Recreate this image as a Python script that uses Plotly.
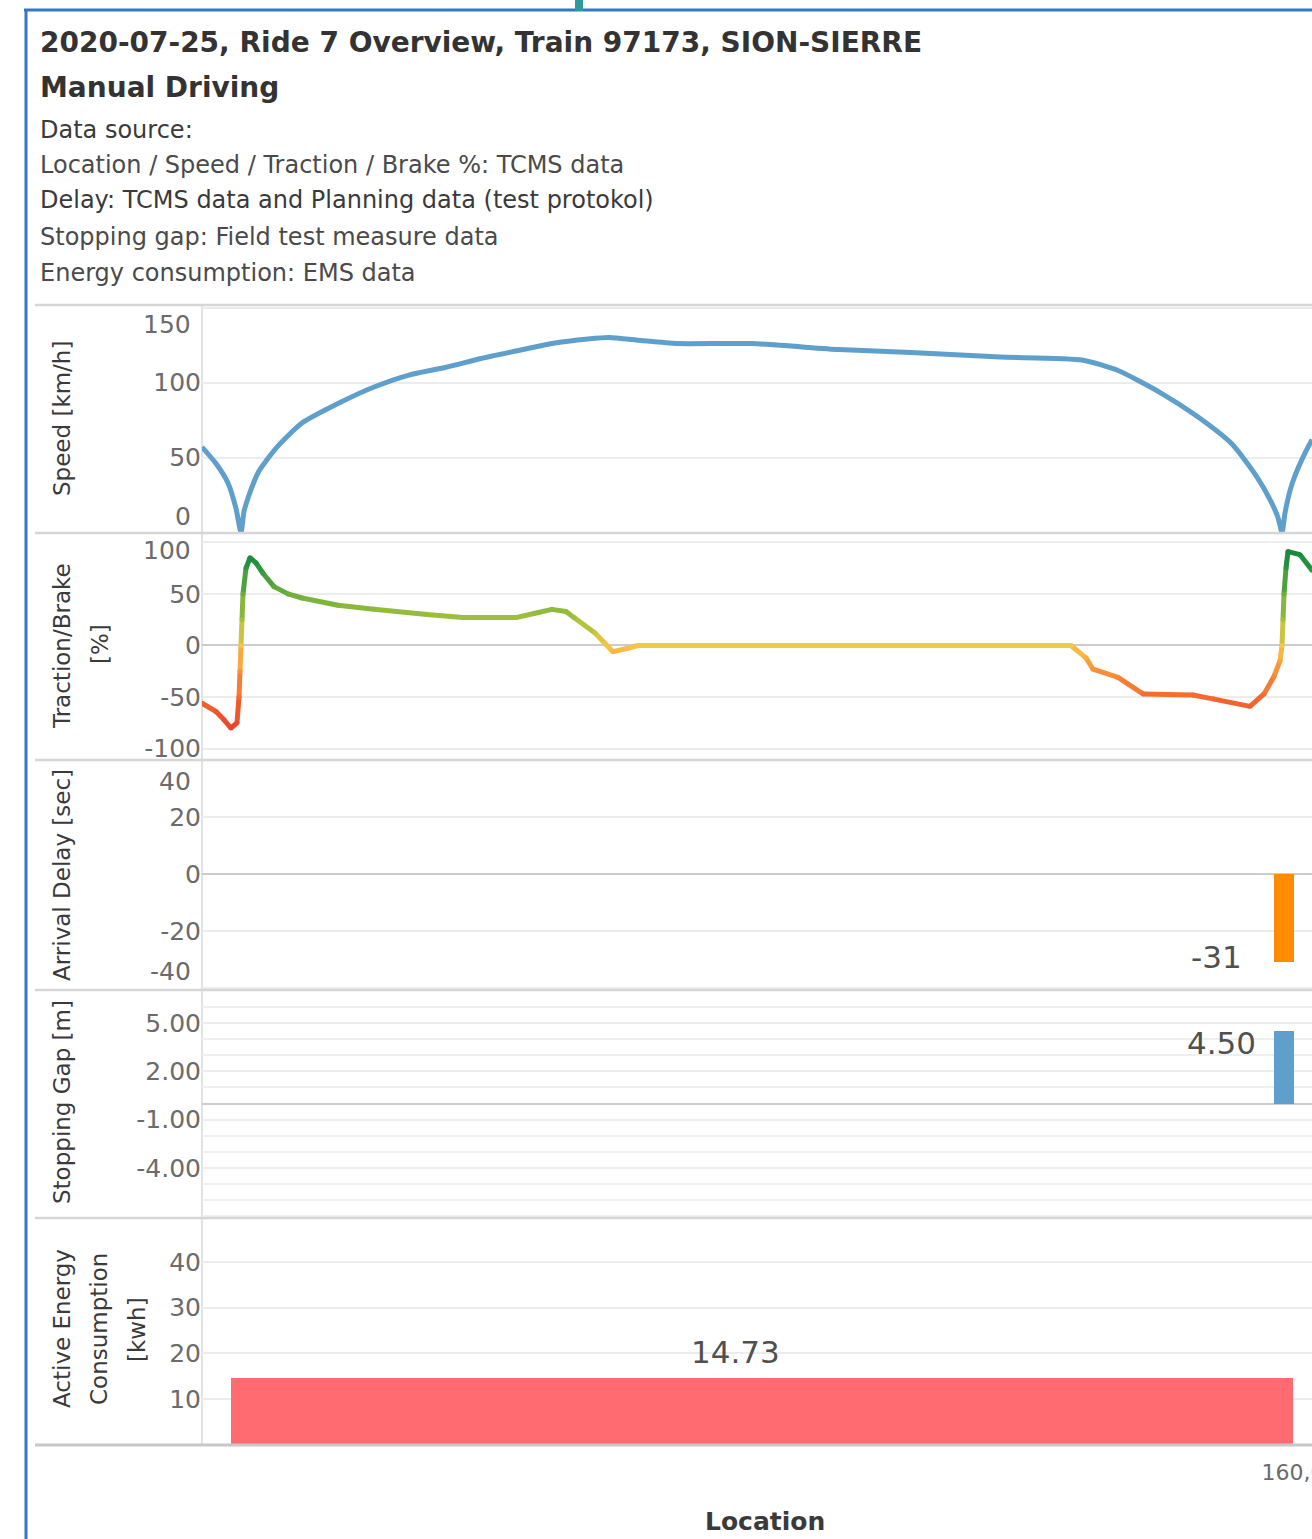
import plotly.graph_objects as go
from plotly.subplots import make_subplots
from plotly.colors import sample_colorscale

# ---------------- data ----------------
speed_loc = [144628, 144824, 144992, 145104, 145174, 145216, 145286, 145426, 145678,
             146028, 146532, 147036, 147526, 148030, 148534, 149024, 149528, 150032,
             150326, 150774, 151278, 152328, 153546, 154554, 155800, 156948, 157452,
             158054, 158544, 159048, 159398, 159580, 159692, 159748, 159790, 159860,
             159930, 160070, 160168]
speed_kmh = [57, 46, 33, 16, 0, 14, 25, 41, 57,
             73, 86, 97, 105, 110, 116, 121, 126, 129,
             130, 128, 126, 126, 122, 120, 117, 115, 108,
             93, 78, 59, 37, 22, 10, 0, 13, 28,
             38, 53, 62]

tb_loc = [144628, 144824, 144936, 145034, 145118, 145146, 145160, 145174, 145188,
          145202, 145244, 145300, 145384, 145482, 145636, 145832, 146028, 146532,
          147036, 147778, 148282, 149024, 149276, 149528, 149724, 149836, 150130,
          150270, 150382, 150578, 150732, 156794, 157004, 157102, 157452, 157802,
          158502, 158796, 159300, 159496, 159636, 159720, 159748, 159762, 159776,
          159804, 159832, 160000, 160168]
tb_pct = [-56, -64, -72, -80, -75, -50, -25, 0, 25,
          50, 75, 85, 80, 70, 57, 50, 46, 39,
          35, 30, 27, 27, 31, 35, 33, 27, 12,
          2, -6, -3, 0, 0, -12, -23, -31, -47,
          -48, -52, -59, -47, -30, -15, 0, 25, 50,
          75, 91, 88, 73]

stop_loc = [159776]
arrival_delay_sec = [-31]
stopping_gap_m = [4.50]
energy_start_loc = [145034]
energy_end_loc = [159902]
energy_kwh = [14.73]

speed_ticks = [0, 50, 100, 150]
tb_ticks = [-100, -50, 0, 50, 100]
delay_ticks = [-40, -20, 0, 20, 40]
gap_ticks = [-4.0, -1.0, 2.0, 5.0]
energy_ticks = [10, 20, 30, 40]
loc_ticks = [160000]
loc_tick_labels = ["160,000"]

# ---------------- geometry helpers ----------------
W, H = 1312, 1539
ML, MT, MB = 202, 305, 94
PW, PH = W - ML, H - MT - MB


def fx(px):
    return (px - ML) / PW


def fy(py):
    return (H - MB - py) / PH


bounds = [305, 533, 760, 990, 1218, 1445]
X_RANGE = [144628, 160168]
FONT = "DejaVu Sans"
TICKFONT = dict(family=FONT, size=25, color="#6b6b6b")
GRID = "#ececec"

fig = make_subplots(rows=5, cols=1, shared_xaxes=True, vertical_spacing=0)

# Speed
fig.add_trace(go.Scatter(x=speed_loc, y=speed_kmh, mode="lines",
                         line=dict(color="#5f9fcb", width=5, shape="spline", smoothing=0.6),
                         showlegend=False, hoverinfo="skip"), row=1, col=1)

# Traction / brake, coloured by value
tb_scale = [[0.0, "rgb(215,48,31)"], [0.1, "rgb(232,68,43)"], [0.25, "rgb(244,106,47)"],
            [0.4, "rgb(247,154,58)"], [0.5, "rgb(247,197,72)"], [0.6, "rgb(178,194,62)"],
            [0.65, "rgb(152,189,60)"], [0.75, "rgb(108,174,60)"], [0.9, "rgb(35,144,62)"],
            [1.0, "rgb(11,131,61)"]]


def tb_norm(v):
    return min(1.0, max(0.0, (v + 100) / 200))


for i in range(len(tb_loc) - 1):
    mid = (tb_pct[i] + tb_pct[i + 1]) / 2
    col = sample_colorscale(tb_scale, [tb_norm(mid)])[0]
    fig.add_trace(go.Scatter(x=tb_loc[i:i + 2], y=tb_pct[i:i + 2], mode="lines",
                             line=dict(color=col, width=5),
                             showlegend=False, hoverinfo="skip"), row=2, col=1)
fig.add_trace(go.Scatter(x=tb_loc, y=tb_pct, mode="markers",
                         marker=dict(size=5, color=tb_pct, colorscale=tb_scale,
                                     cmin=-100, cmax=100, line=dict(width=0)),
                         showlegend=False, hoverinfo="skip"), row=2, col=1)

BAR_W = 280
fig.add_trace(go.Bar(x=stop_loc, y=arrival_delay_sec, width=BAR_W,
                     marker=dict(color="#ff8c00", line=dict(width=0)),
                     showlegend=False, hoverinfo="skip"), row=3, col=1)
fig.add_trace(go.Bar(x=stop_loc, y=stopping_gap_m, width=BAR_W,
                     marker=dict(color="#5f9fcb", line=dict(width=0)),
                     showlegend=False, hoverinfo="skip"), row=4, col=1)
e_center = [(a + b) / 2 for a, b in zip(energy_start_loc, energy_end_loc)]
e_width = [b - a for a, b in zip(energy_start_loc, energy_end_loc)]
fig.add_trace(go.Bar(x=e_center, y=energy_kwh, width=e_width,
                     marker=dict(color="#ff6b70", line=dict(width=0)),
                     showlegend=False, hoverinfo="skip"), row=5, col=1)

# ---------------- axes ----------------
y_specs = [
    dict(rng=[-0.3, 151.7], ticks=speed_ticks, fmt="{:.0f}", hidden=[0, 150], zero=False),
    dict(rng=[-111, 109], ticks=tb_ticks, fmt="{:.0f}", hidden=[100], zero=True),
    dict(rng=[-40.7, 40], ticks=delay_ticks, fmt="{:.0f}", hidden=[40, -40], zero=True),
    dict(rng=[-7.11, 7.05], ticks=gap_ticks, fmt="{:.2f}", hidden=[], zero=True),
    dict(rng=[0, 49.6], ticks=energy_ticks, fmt="{:.0f}", hidden=[], zero=False),
]
for i, s in enumerate(y_specs):
    name = "yaxis" if i == 0 else f"yaxis{i + 1}"
    fig.layout[name].update(
        domain=[fy(bounds[i + 1]), fy(bounds[i])], range=s["rng"],
        tickvals=s["ticks"],
        ticktext=["" if v in s["hidden"] else s["fmt"].format(v) for v in s["ticks"]],
        showgrid=True, gridcolor=GRID, gridwidth=2,
        zeroline=s["zero"], zerolinecolor="#cccccc", zerolinewidth=2,
        showline=False, ticks="", tickfont=TICKFONT, automargin=False, fixedrange=True,
    )
fig.layout["yaxis4"].update(minor=dict(dtick=1, tick0=0, showgrid=True,
                                       gridcolor="#efefef", gridwidth=2))

for i in range(5):
    name = "xaxis" if i == 0 else f"xaxis{i + 1}"
    fig.layout[name].update(range=X_RANGE, showgrid=False, zeroline=False,
                            showline=False, ticks="", showticklabels=False,
                            automargin=False, fixedrange=True)
fig.layout["xaxis5"].update(showticklabels=True, tickvals=loc_ticks,
                            ticktext=loc_tick_labels, ticklabeloverflow="allow",
                            tickfont=dict(family=FONT, size=22, color="#6b6b6b"),
                            ticklabelstandoff=12, ticklabelshift=7)

# ---------------- annotations ----------------
ann = []
header = [
    ("<b>2020-07-25, Ride 7 Overview, Train 97173, SION-SIERRE</b>", 43, 28, "#333333"),
    ("<b>Manual Driving</b>", 88, 28, "#333333"),
    ("Data source:", 130, 24, "#3a3a3a"),
    ("Location / Speed / Traction / Brake %: TCMS data", 165, 24, "#4a4a4a"),
    ("Delay: TCMS data and Planning data (test protokol)", 200, 24, "#3a3a3a"),
    ("Stopping gap: Field test measure data", 237, 24, "#4a4a4a"),
    ("Energy consumption: EMS data", 273, 24, "#4a4a4a"),
]
for txt, py, sz, colr in header:
    ann.append(dict(text=txt, xref="paper", yref="paper", x=fx(38), y=fy(py),
                    xanchor="left", yanchor="middle", showarrow=False,
                    font=dict(family=FONT, size=sz, color=colr)))

ytitles = [
    ("Speed [km/h]", 62, 419),
    ("Traction/Brake", 62, 646),
    ("[%]", 100, 644),
    ("Arrival Delay [sec]", 62, 875),
    ("Stopping Gap [m]", 62, 1102),
    ("Active Energy", 62, 1329),
    ("Consumption", 99, 1329),
    ("[kwh]", 137, 1330),
]
for txt, px, py in ytitles:
    ann.append(dict(text=txt, xref="paper", yref="paper", x=fx(px), y=fy(py),
                    xanchor="center", yanchor="middle", textangle=-90, showarrow=False,
                    font=dict(family=FONT, size=23, color="#3a3a3a")))

# edge tick labels that Tableau nudges inside the pane
edge_labels = [("y", 150, "{:.0f}", -17), ("y", 0, "{:.0f}", 16),
               ("y2", 100, "{:.0f}", -8),
               ("y3", 40, "{:.0f}", -21), ("y3", -40, "{:.0f}", 17)]
for yref, v, fmt, shift in edge_labels:
    ann.append(dict(text=fmt.format(v), xref="paper", yref=yref, x=fx(193), y=v,
                    xanchor="right", yanchor="middle", yshift=shift, showarrow=False,
                    font=TICKFONT))

# bar value labels
LBL = dict(family=FONT, size=31, color="#505050")
ann.append(dict(text=f"{arrival_delay_sec[0]:.0f}", xref="x3", yref="y3",
                x=stop_loc[0], y=arrival_delay_sec[0], xanchor="right", yanchor="middle",
                xshift=-40, yshift=5, showarrow=False, font=LBL))
ann.append(dict(text=f"{stopping_gap_m[0]:.2f}", xref="x4", yref="y4",
                x=stop_loc[0], y=stopping_gap_m[0], xanchor="right", yanchor="middle",
                xshift=-26, yshift=-12, showarrow=False, font=LBL))
ann.append(dict(text=f"{energy_kwh[0]:.2f}", xref="x5", yref="y5",
                x=e_center[0], y=energy_kwh[0], xanchor="center", yanchor="bottom",
                xshift=-27, yshift=6, showarrow=False, font=LBL))

ann.append(dict(text="<b>Location</b>", xref="paper", yref="paper", x=fx(765), y=fy(1521),
                xanchor="center", yanchor="middle", showarrow=False,
                font=dict(family=FONT, size=25, color="#3a3a3a")))

# ---------------- shapes (panel separators, frame) ----------------
shapes = []
for py in bounds[:-1]:
    shapes.append(dict(type="line", xref="paper", yref="paper", x0=fx(35), x1=fx(1312),
                       y0=fy(py), y1=fy(py), line=dict(color="#d6d6d6", width=2.5), layer="above"))
shapes.append(dict(type="line", xref="paper", yref="paper", x0=fx(35), x1=fx(1312),
                   y0=fy(1445), y1=fy(1445), line=dict(color="#c8c8c8", width=3), layer="above"))
shapes.append(dict(type="line", xref="paper", yref="paper", x0=0, x1=0,
                   y0=fy(1445), y1=fy(305), line=dict(color="#e2e2e2", width=2), layer="below"))
# dashboard frame
shapes.append(dict(type="line", xref="paper", yref="paper", x0=fx(24), x1=fx(1312),
                   y0=fy(10), y1=fy(10), line=dict(color="#3577c4", width=3)))
shapes.append(dict(type="line", xref="paper", yref="paper", x0=fx(26), x1=fx(26),
                   y0=fy(10), y1=fy(1539), line=dict(color="#3577c4", width=3)))
shapes.append(dict(type="rect", xref="paper", yref="paper", x0=fx(575), x1=fx(583),
                   y0=fy(11), y1=fy(0), line=dict(width=0), fillcolor="#2a9a9a"))

fig.update_layout(
    width=W, height=H, autosize=False,
    margin=dict(l=ML, r=0, t=MT, b=MB, pad=0),
    paper_bgcolor="white", plot_bgcolor="white",
    showlegend=False, bargap=0,
    annotations=ann, shapes=shapes,
    font=dict(family=FONT),
)

fig.write_html("out.html", config={"displayModeBar": False},
               post_script="document.body.style.margin='0';document.body.style.overflow='hidden';")
